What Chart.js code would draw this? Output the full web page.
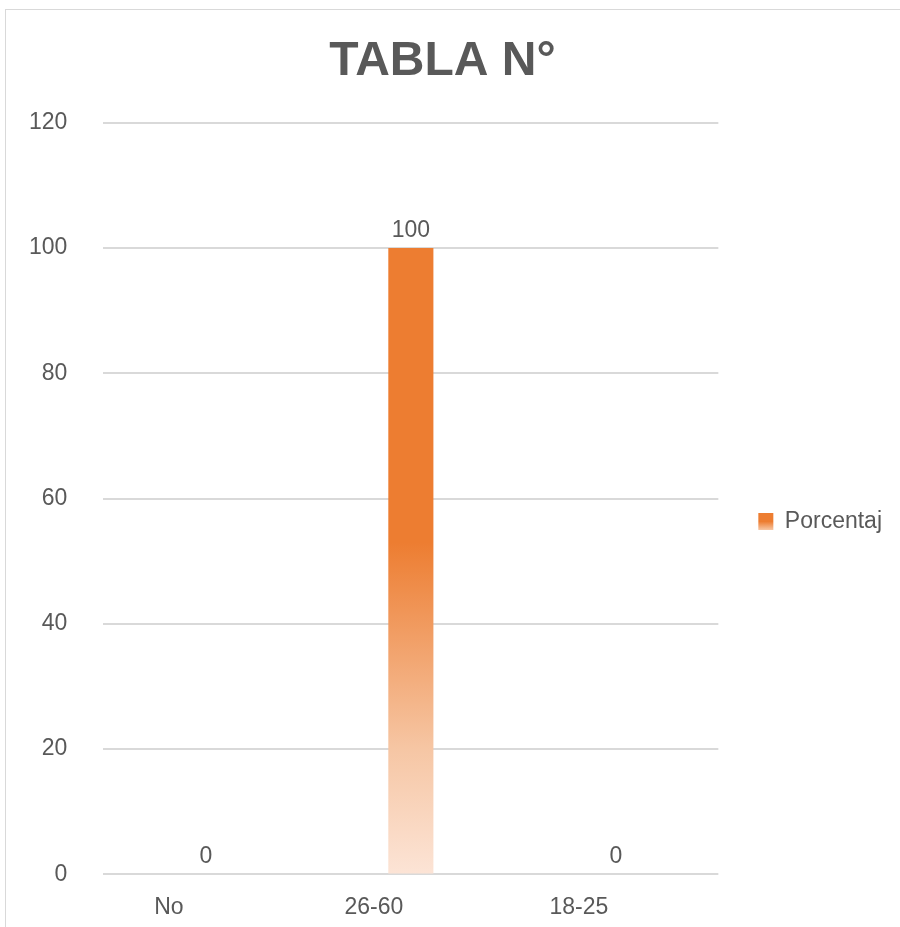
<!DOCTYPE html>
<html>
<head>
<meta charset="utf-8">
<script src="https://cdn.jsdelivr.net/npm/chart.js@4"></script>
<style>
  body { margin: 0; background: #fff; overflow: hidden; }
  #frame { position: absolute; left: 5px; top: 9px; width: 1000px; height: 1000px; border: 1px solid #d9d9d9; }
  #wrap { position: absolute; left: 0; top: 0; width: 900px; height: 927px; }
</style>
</head>
<body>
<div id="frame"></div>
<div id="wrap"><canvas id="chart"></canvas></div>
<script>
// values
const categories = ['No', '26-60', '18-25'];
const porcentaj = [0, 100, 0];
const yTicks = [0, 20, 40, 60, 80, 100, 120];

const textGray = '#595959';
Chart.defaults.font.family = "'Liberation Sans', Arial, sans-serif";

// draws the value over each bar, like the excel data labels
const valueLabels = {
  id: 'valueLabels',
  afterDatasetsDraw(chart) {
    const ctx = chart.ctx;
    ctx.save();
    ctx.font = "23px 'Liberation Sans', Arial, sans-serif";
    ctx.fillStyle = textGray;
    ctx.textAlign = 'center';
    ctx.textBaseline = 'alphabetic';
    chart.getDatasetMeta(0).data.forEach((bar, i) => {
      ctx.fillText(String(porcentaj[i]), bar.x, bar.y - 11);
    });
    ctx.restore();
  }
};

// gradient swatch in the legend too
const legendGradient = {
  id: 'legendGradient',
  beforeDraw(chart) {
    const lg = chart.legend;
    if (!lg || !lg.legendHitBoxes || !lg.legendHitBoxes.length || !lg.legendItems) return;
    const hb = lg.legendHitBoxes[0];
    const g = chart.ctx.createLinearGradient(0, hb.top, 0, hb.top + hb.height);
    g.addColorStop(0, '#ed7d31');
    g.addColorStop(0.5, '#ed7d31');
    g.addColorStop(1, '#fbe0cc');
    lg.legendItems[0].fillStyle = g;
  }
};

function barFill(context) {
  const chart = context.chart;
  const area = chart.chartArea;
  if (!area) return '#ED7D31';
  const y = chart.scales.y;
  const bottom = y.getPixelForValue(0);
  const top = y.getPixelForValue(100);
  const g = chart.ctx.createLinearGradient(0, bottom, 0, top);
  g.addColorStop(0, '#fce4d6');
  g.addColorStop(0.2, '#f6c6a4');
  g.addColorStop(0.53, '#ed7d31');
  g.addColorStop(1, '#ed7d31');
  return g;
}

new Chart(document.getElementById('chart'), {
  type: 'bar',
  data: {
    labels: categories,
    datasets: [{
      label: 'Porcentaj',
      data: porcentaj,
      backgroundColor: barFill,
      borderWidth: 0,
      barPercentage: 0.22,
      categoryPercentage: 1
    }]
  },
  options: {
    responsive: true,
    maintainAspectRatio: false,
    animation: false,
    layout: { padding: { left: -7, right: 8, top: 33, bottom: -13 } },
    plugins: {
      title: {
        display: true,
        text: 'TABLA N°',
        color: textGray,
        font: { size: 48, weight: 'bold' },
        padding: { top: 0, bottom: 32 }
      },
      legend: {
        position: 'right',
        title: { display: true, text: ' ', font: { size: 10 }, padding: { top: 0, bottom: 58 } },
        labels: {
          color: textGray,
          font: { size: 23 },
          boxWidth: 15,
          boxHeight: 17,
          padding: 40
        }
      },
      tooltip: { enabled: false }
    },
    scales: {
      x: {
        grid: { display: false, drawTicks: false },
        border: { display: false },
        ticks: { color: textGray, font: { size: 23 }, padding: 19, labelOffset: -37 }
      },
      y: {
        min: 0,
        max: 120,
        afterBuildTicks(axis) { axis.ticks = yTicks.map(v => ({ value: v })); },
        grid: { color: '#d9d9d9', lineWidth: 2, drawTicks: false },
        border: { display: false },
        ticks: { color: textGray, font: { size: 23 }, padding: 36 }
      }
    }
  },
  plugins: [valueLabels, legendGradient]
});
</script>
</body>
</html>
